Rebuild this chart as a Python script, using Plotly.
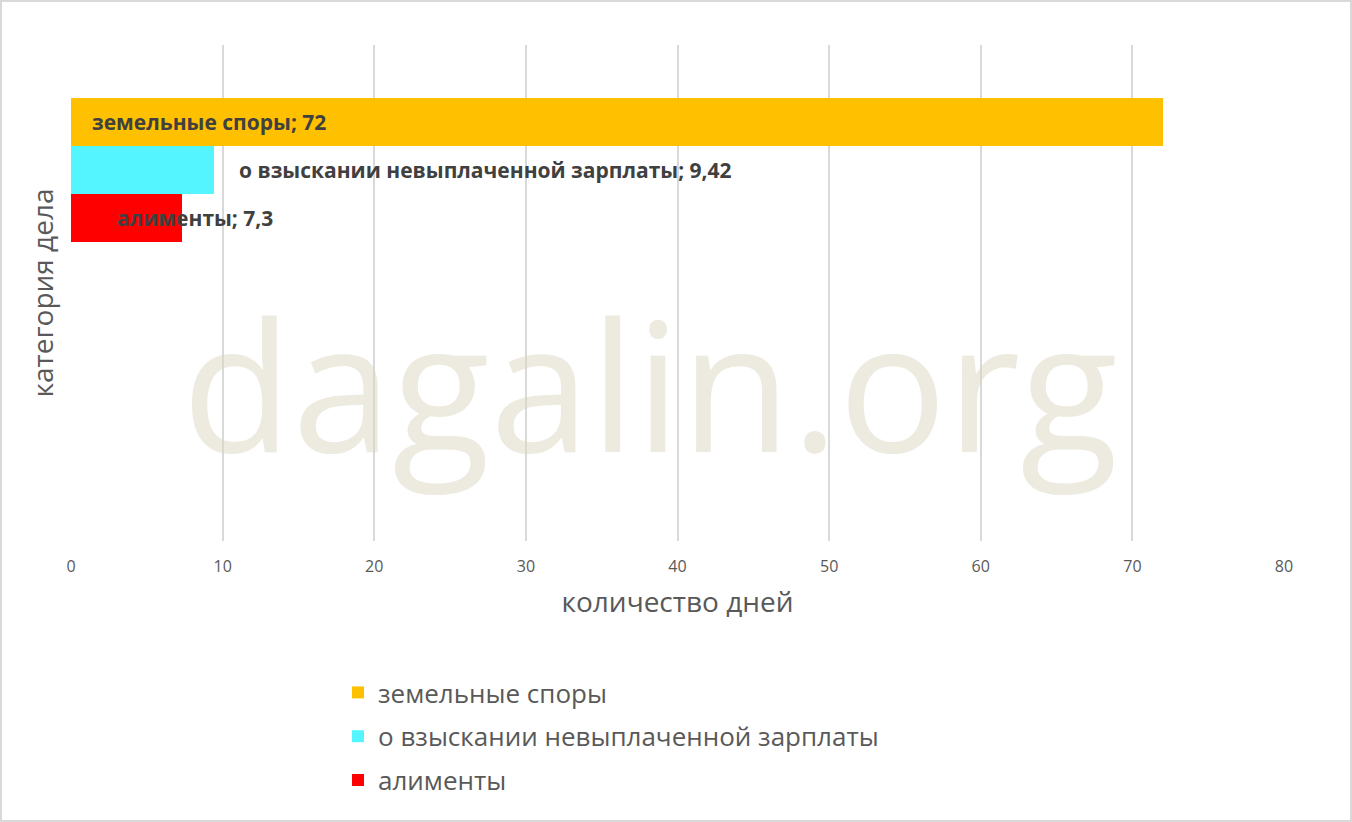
import plotly.graph_objects as go

# данные
series = ['земельные споры', 'о взыскании невыплаченной зарплаты', 'алименты']
days = [72, 9.42, 7.3]
labels = ['72', '9,42', '7,3']
colors = ['#FFC000', '#55F5FF', '#FF0000']
x_ticks = [0, 10, 20, 30, 40, 50, 60, 70, 80]

W, H = 1352, 822
L, R, T, B = 71, 68, 45, 281
pw, ph = W - L - R, H - T - B

fig = go.Figure()
for name, val, col in zip(series, days, colors):
    fig.add_trace(go.Bar(
        x=[val], y=[0], orientation='h', name=name, legendgroup=name,
        marker=dict(color=col, line=dict(width=0)),
        hoverinfo='x+name'
    ))

# подписи данных (как в Excel)
offsets = [-1 / 3, 0, 1 / 3]
label_style = [
    dict(anchor='left', shift=19, at_zero=True),
    dict(anchor='left', shift=23, at_zero=False),
    dict(anchor='center', shift=13, at_zero=False),
]
for name, val, lab, off, st in zip(series, days, labels, offsets, label_style):
    fig.add_annotation(
        x=0 if st['at_zero'] else val, y=off, xref='x', yref='y',
        text=f'{name}; {lab}', showarrow=False,
        xanchor=st['anchor'], xshift=st['shift'],
        font=dict(family='Open Sans', size=21, color='#404040', weight='bold')
    )

# водяной знак
fig.add_annotation(
    x=(650 - L) / pw, y=(T + ph - 382) / ph, xref='paper', yref='paper',
    text='dagalin.org', showarrow=False, xanchor='center', yanchor='middle',
    font=dict(family='Open Sans', size=180, color='rgba(219,213,191,0.5)')
)

# рамка вокруг диаграммы
fig.add_shape(
    type='rect', xref='paper', yref='paper',
    x0=-(L - 1) / pw, x1=1 + (R - 1) / pw, y0=-(B - 1) / ph, y1=1 + (T - 1) / ph,
    line=dict(color='#D9D9D9', width=2), layer='below'
)

fig.update_layout(
    width=W, height=H,
    margin=dict(l=L, r=R, t=T, b=B),
    paper_bgcolor='white', plot_bgcolor='white',
    barmode='group', bargap=0, bargroupgap=0,
    font=dict(family='Open Sans', color='#595959'),
    showlegend=True,
    legend=dict(
        x=(338 - L) / pw, y=(T + ph - 669) / ph, xanchor='left', yanchor='top',
        font=dict(size=26, color='#595959'), tracegroupgap=7,
        itemsizing='constant', bgcolor='rgba(0,0,0,0)'
    ),
    xaxis=dict(
        range=[0, 80], tickvals=x_ticks, showgrid=True, gridcolor='#D9D9D9',
        gridwidth=1.5, zeroline=False, showline=False, ticks='',
        ticklabelstandoff=14,
        tickfont=dict(size=16, color='#595959'),
        title=dict(text='количество дней', font=dict(size=28, color='#595959'),
                   standoff=16)
    ),
    yaxis=dict(
        range=[0.5 + (T + ph - 242) / 144, -0.5 - (98 - T) / 144],
        showticklabels=False, showgrid=False, zeroline=False, showline=False,
        ticks='',
        title=dict(text='категория дела', font=dict(size=28, color='#595959'),
                   standoff=8)
    ),
)

fig.write_html("out.html", config={'displayModeBar': False},
               post_script="document.body.style.margin='0';")
